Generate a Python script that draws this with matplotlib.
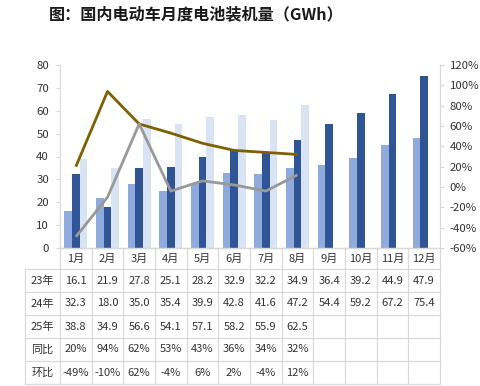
import matplotlib
matplotlib.use("Agg")
import matplotlib.pyplot as plt
import numpy as np

plt.rcParams['font.family'] = ['Noto Sans CJK SC', 'DejaVu Sans']

months = ['1月', '2月', '3月', '4月', '5月', '6月', '7月', '8月', '9月', '10月', '11月', '12月']
y23 = [16.1, 21.9, 27.8, 25.1, 28.2, 32.9, 32.2, 34.9, 36.4, 39.2, 44.9, 47.9]
y24 = [32.3, 18.0, 35.0, 35.4, 39.9, 42.8, 41.6, 47.2, 54.4, 59.2, 67.2, 75.4]
y25 = [38.8, 34.9, 56.6, 54.1, 57.1, 58.2, 55.9, 62.5]
yoy = [20, 94, 62, 53, 43, 36, 34, 32]
mom = [-49, -10, 62, -4, 6, 2, -4, 12]
row_labels = ['23年', '24年', '25年', '同比', '环比']
left_ticks = [0, 10, 20, 30, 40, 50, 60, 70, 80]
right_ticks = [-60, -40, -20, 0, 20, 40, 60, 80, 100, 120]

c23, c24, c25 = '#8FAADC', '#2F5597', '#DAE3F3'
c_yoy, c_mom = '#7F6000', '#999999'
grid_c = '#D9D9D9'
fs = 8.2
tfs = 8.0

W, H = 480, 386
fig = plt.figure(figsize=(W / 100, H / 100), dpi=100)

L, R, T, B = 60, 440, 65, 248
ax = fig.add_axes([L / W, 1 - B / H, (R - L) / W, (B - T) / H])
x = np.arange(len(months))
bw = 0.245
ax.bar(x - bw, y23, bw, color=c23, zorder=2)
ax.bar(x, y24, bw, color=c24, zorder=2)
ax.bar(np.arange(len(y25)) + bw, y25, bw, color=c25, zorder=2)
ax.set_xlim(-0.5, len(months) - 0.5)
ax.set_ylim(0, 80)
ax.set_yticks(left_ticks)
ax.set_yticklabels([str(t) for t in left_ticks], fontsize=fs, color='#333333')
ax.set_xticks([])
ax.spines['top'].set_visible(False)
for s in ['left', 'bottom', 'right']:
    ax.spines[s].set_color(grid_c)
ax.tick_params(axis='y', length=3, color=grid_c, pad=5)

ax2 = ax.twinx()
ax2.plot(np.arange(len(yoy)), yoy, color=c_yoy, lw=2.0, solid_capstyle='butt')
ax2.plot(np.arange(len(mom)), mom, color=c_mom, lw=2.0, solid_capstyle='butt')
ax2.set_ylim(-60, 120)
ax2.set_yticks(right_ticks)
ax2.set_yticklabels([f'{t}%' for t in right_ticks], fontsize=fs, color='#333333')
ax2.tick_params(axis='y', length=3, color=grid_c, pad=4)
ax2.spines['top'].set_visible(False)
for s in ['left', 'bottom', 'right']:
    ax2.spines[s].set_color(grid_c)

# data table
tb = fig.add_axes([0, 0, 1, 1])
tb.set_xlim(0, W)
tb.set_ylim(H, 0)
tb.axis('off')
colw = (R - L) / len(months)
label_left = 25
header_bottom = 269
rowh = 23
nrows = len(row_labels)
bottom = header_bottom + rowh * nrows
lw = 0.9
for i in range(len(months) + 1):
    xx = L + i * colw
    tb.plot([xx, xx], [B, bottom], color=grid_c, lw=lw)
tb.plot([label_left, label_left], [header_bottom, bottom], color=grid_c, lw=lw)
tb.plot([L, R], [B, B], color=grid_c, lw=lw)
for r in range(nrows + 1):
    yy = header_bottom + r * rowh
    tb.plot([label_left, R], [yy, yy], color=grid_c, lw=lw)

for i, m in enumerate(months):
    tb.text(L + (i + 0.5) * colw, (B + header_bottom) / 2, m, ha='center', va='center',
            fontsize=tfs, color='#333333')

rows = [
    [f'{v:.1f}' for v in y23],
    [f'{v:.1f}' for v in y24],
    [f'{v:.1f}' for v in y25],
    [f'{v}%' for v in yoy],
    [f'{v}%' for v in mom],
]
for r, (lab, vals) in enumerate(zip(row_labels, rows)):
    yc = header_bottom + (r + 0.5) * rowh
    tb.text((label_left + L) / 2, yc, lab, ha='center', va='center', fontsize=tfs, color='#333333')
    for i, v in enumerate(vals):
        tb.text(L + (i + 0.5) * colw, yc, v, ha='center', va='center', fontsize=tfs, color='#333333')

fig.text(49 / W, 1 - 14 / H, '图：国内电动车月度电池装机量（GWh）', ha='left', va='center',
         fontsize=11.6, fontweight='bold', color='#1a1a1a')

fig.savefig('out.png', dpi=100)
